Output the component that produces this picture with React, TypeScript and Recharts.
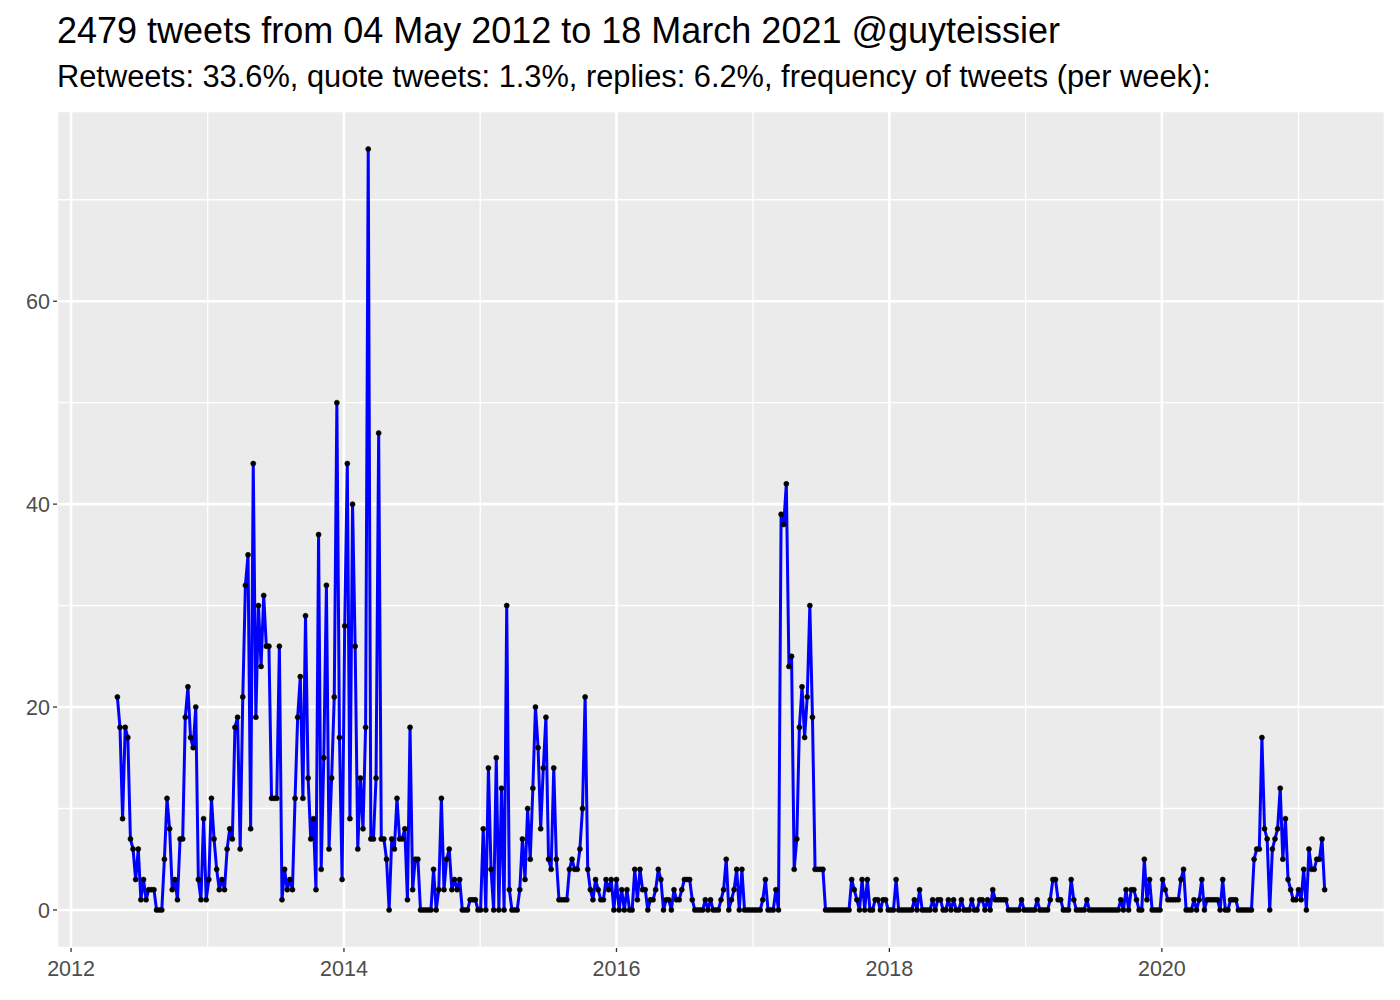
import React from "react";
import { LineChart, Line, XAxis, YAxis, CartesianGrid, ReferenceLine } from "recharts";

// weekly tweet counts, consecutive weeks starting 04 May 2012
const firstWeek = Date.UTC(2012, 4, 4);
const WEEK_MS = 7 * 24 * 3600 * 1000;

const weeks2012 = [21, 18, 9, 18, 17, 7, 6, 3, 6, 1, 3, 1, 2, 2, 2, 0, 0, 0, 5, 11, 8, 2, 3, 1, 7, 7, 19, 22, 17, 16, 20, 3, 1, 9, 1];
const weeks2013 = [3, 11, 7, 4, 2, 3, 2, 6, 8, 7, 18, 19, 6, 21, 32, 35, 8, 44, 19, 30, 24, 31, 26, 26, 11, 11, 11, 26, 1, 4, 2, 3, 2, 11, 19, 23, 11, 29, 13, 7, 9, 2, 37, 4, 15, 32, 6, 13, 21, 50, 17, 3];
const weeks2014 = [28, 44, 9, 40, 26, 6, 13, 8, 18, 75, 7, 7, 13, 47, 7, 7, 5, 0, 7, 6, 11, 7, 7, 8, 1, 18, 2, 5, 5, 0, 0, 0, 0, 0, 4, 0, 2, 11, 2, 5, 6, 2, 3, 2, 3, 0, 0, 0, 1, 1, 1, 0];
const weeks2015 = [0, 8, 0, 14, 4, 0, 15, 0, 12, 0, 30, 2, 0, 0, 0, 2, 7, 3, 10, 5, 12, 20, 16, 8, 14, 19, 5, 4, 14, 5, 1, 1, 1, 1, 4, 5, 4, 4, 6, 10, 21, 4, 2, 1, 3, 2, 1, 1, 3, 2, 3, 0];
const weeks2016 = [3, 0, 2, 0, 2, 0, 0, 4, 1, 4, 2, 2, 0, 1, 1, 2, 4, 3, 0, 1, 1, 0, 2, 1, 1, 2, 3, 3, 3, 1, 0, 0, 0, 0, 1, 0, 1, 0, 0, 0, 1, 2, 5, 0, 1, 2, 4, 0, 4, 0, 0, 0, 0];
const weeks2017 = [0, 0, 0, 1, 3, 0, 0, 0, 2, 0, 39, 38, 42, 24, 25, 4, 7, 18, 22, 17, 21, 30, 19, 4, 4, 4, 4, 0, 0, 0, 0, 0, 0, 0, 0, 0, 0, 3, 2, 1, 0, 3, 0, 3, 0, 0, 1, 1, 0, 1, 1, 0];
const weeks2018 = [0, 0, 3, 0, 0, 0, 0, 0, 0, 1, 0, 2, 0, 0, 0, 0, 1, 0, 1, 1, 0, 0, 1, 0, 1, 0, 0, 1, 0, 0, 0, 1, 0, 0, 1, 1, 0, 1, 0, 2, 1, 1, 1, 1, 1, 0, 0, 0, 0, 0, 1, 0];
const weeks2019 = [0, 0, 0, 0, 1, 0, 0, 0, 0, 1, 3, 3, 1, 1, 0, 0, 0, 3, 1, 0, 0, 0, 0, 1, 0, 0, 0, 0, 0, 0, 0, 0, 0, 0, 0, 0, 1, 0, 2, 0, 2, 2, 1, 0, 0, 5, 1, 3, 0, 0, 0, 0];
const weeks2020 = [3, 2, 1, 1, 1, 1, 1, 3, 4, 0, 0, 0, 1, 0, 1, 3, 0, 1, 1, 1, 1, 1, 0, 3, 0, 0, 1, 1, 1, 0, 0, 0, 0, 0, 0, 5, 6, 6, 17, 8, 7, 0, 6, 7, 8, 12, 5, 9, 3, 2, 1, 1];
const weeks2021 = [2, 1, 4, 0, 6, 4, 4, 5, 5, 7, 2];

const majorYears = [2012, 2014, 2016, 2018, 2020];
const minorYears = [2013, 2015, 2017, 2019, 2021];
const yTicks = [0, 20, 40, 60];
const yMinor = [10, 30, 50, 70];

const counts = [
  ...weeks2012, ...weeks2013, ...weeks2014, ...weeks2015, ...weeks2016,
  ...weeks2017, ...weeks2018, ...weeks2019, ...weeks2020, ...weeks2021,
];

const data = counts.map((n, i) => ({ date: firstWeek + i * WEEK_MS, n }));

const t0 = data[0].date;
const t1 = data[data.length - 1].date;
const xPad = (t1 - t0) * 0.05;
const yMax = Math.max(...counts);
const yPad = yMax * 0.05;

const yearMs = (y: number) => Date.UTC(y, 0, 1);

const App: React.FC = () => {
  return (
    <div
      style={{
        position: "absolute",
        left: 0,
        top: 0,
        width: 1400,
        height: 1000,
        background: "#fff",
        fontFamily: "'Liberation Sans', Arial, sans-serif",
      }}
    >
      <div style={{ position: "absolute", left: 57, top: 13, fontSize: 36, lineHeight: 1, color: "#000", whiteSpace: "nowrap" }}>
        2479 tweets from 04 May 2012 to 18 March 2021 @guyteissier
      </div>
      <div style={{ position: "absolute", left: 57, top: 62, fontSize: 30.8, lineHeight: 1, color: "#000", whiteSpace: "nowrap" }}>
        Retweets: 33.6%, quote tweets: 1.3%, replies: 6.2%, frequency of tweets (per week):
      </div>
      <div style={{ position: "absolute", left: 0, top: 0 }}>
        <LineChart width={1400} height={1000} data={data} margin={{ top: 111, right: 15, bottom: 22, left: 0 }}>
          <CartesianGrid fill="#EBEBEB" stroke="#FFFFFF" strokeWidth={2.6} />
          {yMinor.map((v) => (
            <ReferenceLine key={"y" + v} y={v} stroke="#FFFFFF" strokeWidth={1.3} />
          ))}
          {minorYears.map((y) => (
            <ReferenceLine key={"x" + y} x={yearMs(y)} stroke="#FFFFFF" strokeWidth={1.3} />
          ))}
          <XAxis
            dataKey="date"
            type="number"
            domain={[t0 - xPad, t1 + xPad]}
            ticks={majorYears.map(yearMs)}
            tickFormatter={(v: number) => String(new Date(v).getUTCFullYear())}
            axisLine={false}
            tickLine={{ stroke: "#333333", strokeWidth: 1.3 }}
            tickSize={4}
            tickMargin={9}
            tick={{ fill: "#4D4D4D", fontSize: 21.5 }}
            height={30}
          />
          <YAxis
            type="number"
            domain={[-yPad, yMax + yPad]}
            ticks={yTicks}
            axisLine={false}
            tickLine={{ stroke: "#333333", strokeWidth: 1.3 }}
            tickSize={4}
            tickMargin={3}
            tick={{ fill: "#4D4D4D", fontSize: 21.5 }}
            width={57}
          />
          <Line
            type="linear"
            dataKey="n"
            stroke="#0000FF"
            strokeWidth={3}
            dot={{ r: 2.5, fill: "#000000", stroke: "#000000", strokeWidth: 0.6 }}
            activeDot={false}
            isAnimationActive={false}
          />
        </LineChart>
      </div>
    </div>
  );
};

export default App;
